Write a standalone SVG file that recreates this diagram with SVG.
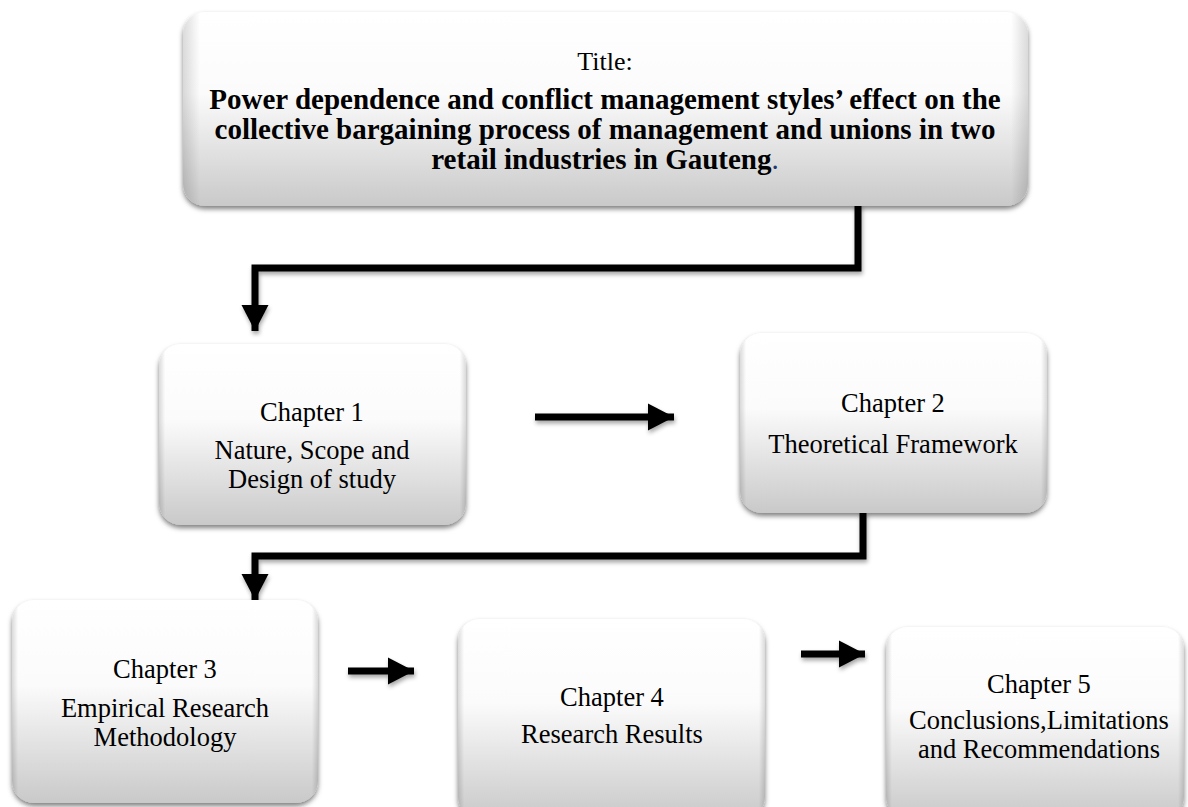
<svg xmlns="http://www.w3.org/2000/svg" width="1188" height="807" viewBox="0 0 1188 807">
  <style>
    .box { fill: url(#boxFill); filter: url(#boxShadow); }
    .edge { fill: url(#edgeShade); }
    .t { font-family: "Liberation Serif", "Times New Roman", serif; fill: #000; text-anchor: middle; }
    .reg { font-size: 26px; }
    .chap { font-size: 26.5px; }
    .bold { font-size: 29px; font-weight: bold; }
    .conn { fill: none; stroke: #000; stroke-width: 7; stroke-linejoin: miter; }
  </style>
  <defs>
    <linearGradient id="boxFill" x1="0" y1="0" x2="0" y2="1">
      <stop offset="0" stop-color="#ffffff"/>
      <stop offset="0.42" stop-color="#fbfbfb"/>
      <stop offset="1" stop-color="#c9c9c9"/>
    </linearGradient>
    <linearGradient id="edgeShade" x1="0" y1="0" x2="1" y2="0">
      <stop offset="0" stop-color="#000" stop-opacity="0.14"/>
      <stop offset="0.02" stop-color="#000" stop-opacity="0"/>
      <stop offset="0.98" stop-color="#000" stop-opacity="0"/>
      <stop offset="1" stop-color="#000" stop-opacity="0.14"/>
    </linearGradient>
    <filter id="boxShadow" x="-5%" y="-5%" width="110%" height="115%">
      <feDropShadow dx="0" dy="3" stdDeviation="2.5" flood-color="#000" flood-opacity="0.5"/>
    </filter>
    <filter id="lineShadow" x="-5%" y="-10%" width="110%" height="130%">
      <feDropShadow dx="1" dy="3" stdDeviation="2" flood-color="#000" flood-opacity="0.35"/>
    </filter>
    <marker id="head" markerUnits="userSpaceOnUse" markerWidth="30" markerHeight="30" viewBox="0 0 30 30" refX="26" refY="15" orient="auto">
      <path d="M0,1.5 L26,15 L0,28.5 Z" fill="#000"/>
    </marker>
  </defs>

  <!-- connectors -->
  <g id="connectors" filter="url(#lineShadow)">
    <path class="conn" d="M858,204 V268 H255 V331" marker-end="url(#head)"/>
    <path class="conn" d="M863,511 V556 H255 V600" marker-end="url(#head)"/>
    <path class="conn" d="M535,417 H674" marker-end="url(#head)"/>
    <path class="conn" d="M348,671 H414" marker-end="url(#head)"/>
    <path class="conn" d="M801,654 H865" marker-end="url(#head)"/>
  </g>

  <!-- title -->
  <g id="title">
    <rect class="box" x="183" y="12" width="845" height="194" rx="22"/>
    <rect class="edge" x="183" y="12" width="845" height="194" rx="22"/>
    <text class="t reg" x="605" y="70">Title:</text>
    <text class="t bold" x="605" y="109">Power dependence and conflict management styles’ effect on the</text>
    <text class="t bold" x="605" y="139">collective bargaining process of management and unions in two</text>
    <text class="t bold" x="605" y="169">retail industries in Gauteng<tspan fill="#1f3a70" font-weight="normal">.</tspan></text>
  </g>

  <!-- chapter 1 -->
  <g id="chapter1">
    <rect class="box" x="159" y="344" width="307" height="181" rx="22"/>
    <rect class="edge" x="159" y="344" width="307" height="181" rx="22"/>
    <text class="t chap" x="312" y="421">Chapter 1</text>
    <text class="t chap" x="312" y="459">Nature, Scope and</text>
    <text class="t chap" x="312" y="488">Design of study</text>
  </g>

  <!-- chapter 2 -->
  <g id="chapter2">
    <rect class="box" x="740" y="333" width="307" height="180" rx="22"/>
    <rect class="edge" x="740" y="333" width="307" height="180" rx="22"/>
    <text class="t chap" x="893" y="412">Chapter 2</text>
    <text class="t chap" x="893" y="453">Theoretical Framework</text>
  </g>

  <!-- chapter 3 -->
  <g id="chapter3">
    <rect class="box" x="12" y="600" width="306" height="203" rx="22"/>
    <rect class="edge" x="12" y="600" width="306" height="203" rx="22"/>
    <text class="t chap" x="165" y="678">Chapter 3</text>
    <text class="t chap" x="165" y="717">Empirical Research</text>
    <text class="t chap" x="165" y="746">Methodology</text>
  </g>

  <!-- chapter 4 -->
  <g id="chapter4">
    <rect class="box" x="458" y="619" width="307" height="200" rx="22"/>
    <rect class="edge" x="458" y="619" width="307" height="200" rx="22"/>
    <text class="t chap" x="612" y="706">Chapter 4</text>
    <text class="t chap" x="612" y="743">Research Results</text>
  </g>

  <!-- chapter 5 -->
  <g id="chapter5">
    <rect class="box" x="886" y="627" width="298" height="192" rx="22"/>
    <rect class="edge" x="886" y="627" width="298" height="192" rx="22"/>
    <text class="t chap" x="1039" y="693">Chapter 5</text>
    <text class="t chap" x="1039" y="729">Conclusions,Limitations</text>
    <text class="t chap" x="1039" y="758">and Recommendations</text>
  </g>
</svg>
